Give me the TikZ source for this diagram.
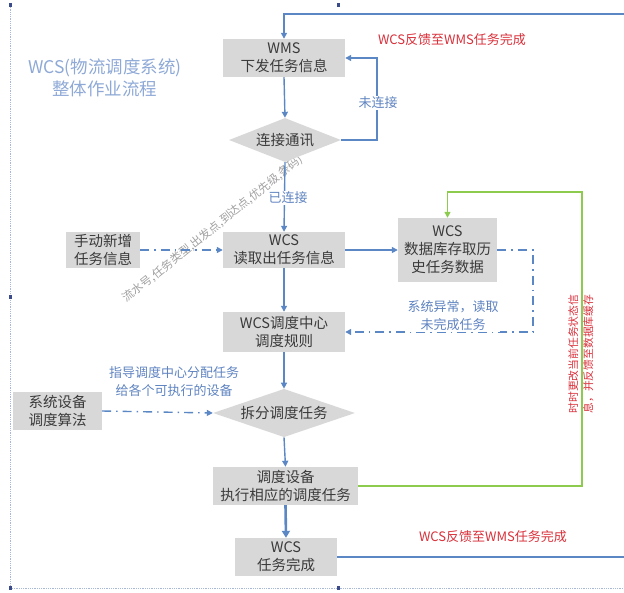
\documentclass[tikz,border=0pt]{standalone}
\usepackage{fontspec}
\setmainfont{Noto Sans CJK SC}
\usetikzlibrary{arrows.meta,shapes.geometric}
\definecolor{boxgray}{HTML}{D8D8D8}
\definecolor{txt}{HTML}{3A3A3A}
\definecolor{lineblue}{HTML}{5B87C5}
\definecolor{lblblue}{HTML}{5E83C0}
\definecolor{titleblue}{HTML}{8EA9D6}
\definecolor{redtxt}{HTML}{D9303A}
\definecolor{greenline}{HTML}{8CCB4E}
\definecolor{framecol}{HTML}{A8B8D8}
\definecolor{handlecol}{HTML}{3B4A8A}
\definecolor{wmgray}{HTML}{A0A0A0}
\tikzset{
 box/.style={fill=boxgray, text=txt, inner sep=0pt, align=center, font=\fontsize{14.5}{18}\selectfont},
 decision/.style={diamond, fill=boxgray, text=txt, inner sep=0pt, aspect=2.5, font=\fontsize{14.5}{18}\selectfont},
 arr/.style={draw=lineblue, line width=1.4pt, -{Triangle[length=6pt,width=6pt]}},
 dasharr/.style={arr, dash pattern=on 9pt off 5pt on 1.5pt off 5pt},
 garr/.style={draw=greenline, line width=1.4pt, -{Triangle[length=6pt,width=6pt]}},
 lbl/.style={text=lblblue, font=\fontsize{13}{18}\selectfont, align=center},
 redlbl/.style={text=redtxt, font=\fontsize{13}{15}\selectfont},
 handle/.style={fill=handlecol, minimum width=3pt, minimum height=4pt, inner sep=0pt},
}
\begin{document}
\begin{tikzpicture}[x=1pt,y=-1pt]
\useasboundingbox (0,0) rectangle (624,592);
% frame
\draw[framecol, densely dotted, line width=0.8pt] (10,5) -- (10,588) -- (640,588);
\node[handle] (h1) at (10,5) {};
\node[handle] (h2) at (338,5) {};
\node[handle] (h3) at (10,297) {};
\node[handle] (h4) at (10,588) {};
\node[handle] (h5) at (338,588) {};
% title
\node[text=titleblue, align=center, font=\fontsize{17.5}{22}\selectfont] (title) at (105,78) {WCS(物流调度系统)\\整体作业流程};
% watermark
\node[text=wmgray, rotate=38.8, font=\fontsize{11.5}{14}\selectfont] (wm) at (213,229) {流水号,任务类型,出发点,到达点,优先级,条码)};
% nodes
\node[box, minimum width=122pt, minimum height=38pt] (wms) at (284,58) {WMS\\下发任务信息};
\node[decision, minimum width=112pt, minimum height=44pt] (d1) at (285,140) {连接通讯};
\node[box, minimum width=122pt, minimum height=36pt] (read) at (284,250) {WCS\\读取出任务信息};
\node[box, minimum width=74pt, minimum height=36pt] (manual) at (103,250) {手动新增\\任务信息};
\node[box, minimum width=99pt, minimum height=64pt] (db) at (447.5,250) {WCS\\数据库存取历\\史任务数据};
\node[box, minimum width=122pt, minimum height=40pt] (center) at (284,332) {WCS调度中心\\调度规则};
\node[decision, minimum width=142pt, minimum height=48pt] (d2) at (284,413) {拆分调度任务};
\node[box, minimum width=89pt, minimum height=38pt] (algo) at (57.5,411) {系统设备\\调度算法};
\node[box, minimum width=145pt, minimum height=38pt] (exec) at (285.5,486) {调度设备\\执行相应的调度任务};
\node[box, minimum width=102pt, minimum height=38pt] (done) at (286,557) {WCS\\任务完成};
% coordinates
\coordinate (br) at (640,557);
\coordinate (tr) at (640,14);
\coordinate (loopr) at (377,140);
\coordinate (dbr) at (533,250);
\coordinate (gtr) at (582,192);
% connectors
\draw[arr] (done.east) -- (br) -- (tr) -| (wms.north);
\draw[arr] (wms.south) -- (d1.north);
\draw[arr] (d1.east) -- (loopr) |- (wms.east);
\draw[arr] (d1.south) -- (read.north);
\draw[dasharr] (manual.east) -- (read.west);
\draw[arr] (read.east) -- (db.west);
\draw[arr] (read.south) -- (center.north);
\draw[dasharr] (db.east) -- (dbr) |- (center.east);
\draw[arr] (center.south) -- (d2.north);
\draw[dasharr] (algo.east) -- (d2.west);
\draw[arr] (d2.south) -- (exec.north);
\draw[garr] (exec.east) -| (gtr) -| (db.north);
\draw[draw=lineblue, line width=2.6pt, -{Triangle[length=7pt,width=8pt]}] (exec.south) -- (done.north);
% labels
\node[lbl, fill=white, inner sep=1pt] (l1) at (378,103) {未连接};
\node[lbl, fill=white, inner sep=1pt] (l2) at (288,198) {已连接};
\node[lbl, fill=white, inner sep=1pt] (l3) at (453,316) {系统异常，读取\\未完成任务};
\node[lbl] (l4) at (174,382) {指导调度中心分配任务\\给各个可执行的设备};
\node[redlbl] (r1) at (452,40) {WCS反馈至WMS任务完成};
\node[redlbl] (r2) at (493,537) {WCS反馈至WMS任务完成};
\node[text=redtxt, rotate=90, align=left, font=\fontsize{10.8}{15}\selectfont] (r3) at (581,354) {时时更改当前任务状态信\\息，并反馈至数据库缓存};
\end{tikzpicture}
\end{document}
